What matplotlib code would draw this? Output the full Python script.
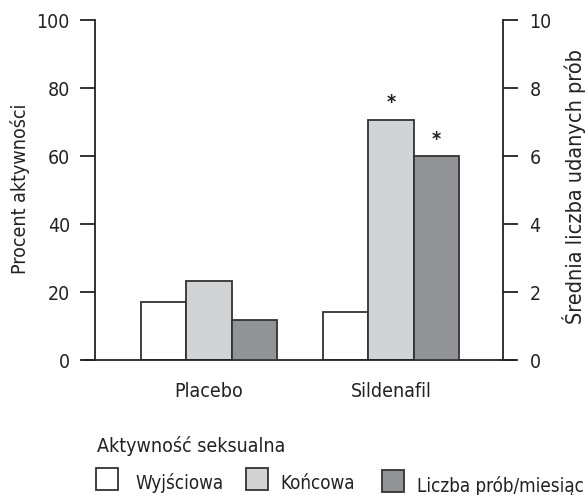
import matplotlib
matplotlib.use("Agg")
import matplotlib.pyplot as plt
from matplotlib.patches import Rectangle
import numpy as np

plt.rcParams['font.family'] = ['DejaVu Sans']
plt.rcParams['font.stretch'] = 'condensed'

groups = ['Placebo', 'Sildenafil']
baseline = [17.0, 14.2]        # Wyjściowa, % (left axis)
final = [23.3, 70.7]           # Końcowa, % (left axis)
attempts = [1.17, 6.0]         # Liczba prób/miesiąc (right axis)
star_final = [False, True]
star_attempts = [False, True]

legend_title = 'Aktywność seksualna'
legend_labels = ['Wyjściowa', 'Końcowa', 'Liczba prób/miesiąc']
colors = ['#ffffff', '#d2d3d5', '#929396']
edge = '#333333'
ink = '#222222'

fig = plt.figure(figsize=(5.86, 4.95), dpi=100)
ax = fig.add_axes([95 / 586, 1 - 360 / 495, 408 / 586, 340 / 495])
ax2 = ax.twinx()

centers = np.array([0.0, 4.0])
w = 1.0
ax.bar(centers - w, baseline, w, color=colors[0], edgecolor=edge, linewidth=1.3, zorder=2)
ax.bar(centers, final, w, color=colors[1], edgecolor=edge, linewidth=1.3, zorder=2)
ax2.bar(centers + w, attempts, w, color=colors[2], edgecolor=edge, linewidth=1.3, zorder=2)

for i in range(len(groups)):
    if star_final[i]:
        ax.text(centers[i], final[i] + 5.0, '*', ha='center', va='center',
                fontsize=14, fontweight='bold', color=ink)
    if star_attempts[i]:
        ax2.text(centers[i] + w, attempts[i] + 0.5, '*', ha='center', va='center',
                 fontsize=14, fontweight='bold', color=ink)

ax.set_xlim(-2.505, 6.46)
ax.set_ylim(0, 100)
ax2.set_ylim(0, 10)
ax.set_yticks(np.arange(0, 101, 20))
ax2.set_yticks(np.arange(0, 11, 2))
ax.set_xticks(centers)
ax.set_xticklabels(groups)

for a in (ax, ax2):
    a.spines['top'].set_visible(False)
    a.spines['bottom'].set_visible(False)
    a.tick_params(width=1.3, length=11, labelsize=14, color=ink, labelcolor=ink)
ax.spines['right'].set_visible(False)
ax2.spines['left'].set_visible(False)
ax.spines['left'].set_linewidth(1.3)
ax.spines['left'].set_color(ink)
ax2.spines['right'].set_linewidth(1.3)
ax2.spines['right'].set_color(ink)
ax.tick_params(axis='x', length=0, pad=16)
ax.tick_params(axis='y', pad=7)
ax2.tick_params(axis='y', pad=8)

# baseline runs past both y axes, like the tick marks
ax.axhline(0, xmin=-11 / 408, xmax=1 + 12 / 408, color=ink, linewidth=1.3, clip_on=False, zorder=3)

fig.text(20 / 586, 1 - 189 / 495, 'Procent aktywności', rotation=90, fontsize=14,
         color=ink, ha='center', va='center')
fig.text(574 / 586, 1 - 187 / 495, 'Średnia liczba udanych prób', rotation=90, fontsize=15.5,
         color=ink, ha='center', va='center')

# legend
fig.text(97 / 586, 1 - 452 / 495, legend_title, fontsize=14, color=ink, va='baseline')
sq_x = [96, 246, 382]
sq_y = [468, 468, 470]
txt_x = [135, 280, 417]
txt_base = [489, 489, 492]
for i in range(3):
    fig.patches.append(Rectangle((sq_x[i] / 586, 1 - (sq_y[i] + 22) / 495), 22 / 586, 22 / 495,
                                 transform=fig.transFigure, facecolor=colors[i],
                                 edgecolor=edge, linewidth=1.3))
    fig.text(txt_x[i] / 586, 1 - txt_base[i] / 495, legend_labels[i], fontsize=13.5,
             color=ink, va='baseline')

fig.savefig('out.png', dpi=100)
